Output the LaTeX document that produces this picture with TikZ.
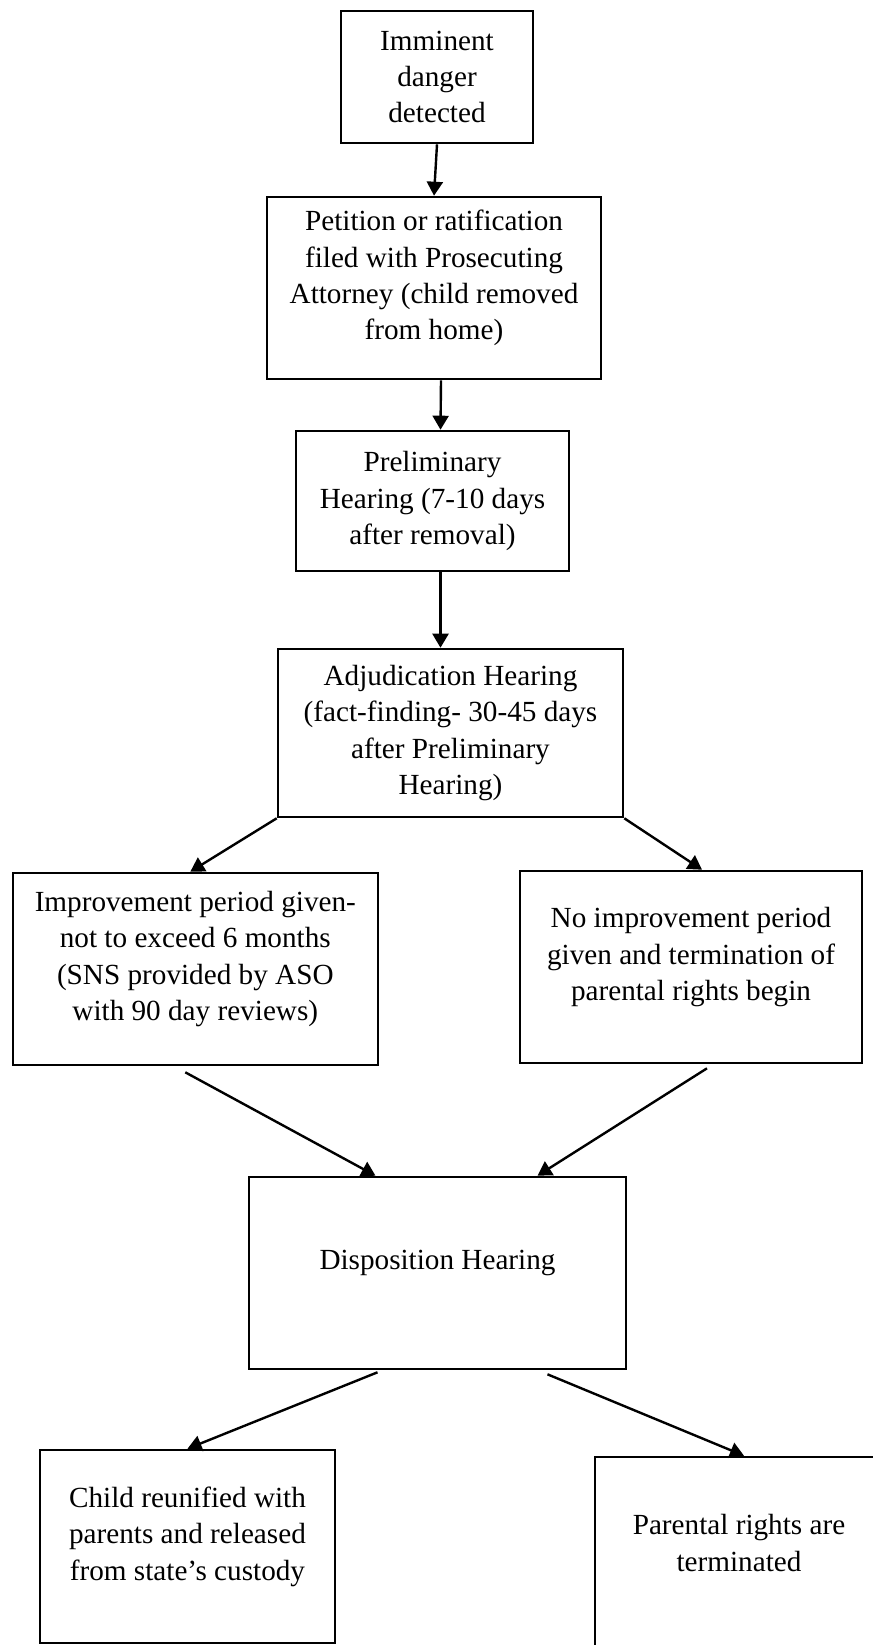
\documentclass[tikz,border=0pt]{standalone}
\usepackage{fontspec}
\setmainfont{Liberation Serif}
\usepackage{tikz}
\usetikzlibrary{arrows.meta, positioning, calc}
\tikzstyle{stage}  = [rectangle, draw, line width=2.6pt, align=center,
                      inner sep=0pt, font=\fontsize{29.2}{36.4}\selectfont]
\tikzstyle{lifted} = [text depth=26pt]
\tikzstyle{arrow}  = [-{Triangle[length=14pt, width=16pt]}, line width=2.4pt]

\begin{document}
\begin{tikzpicture}[x=1pt, y=-1pt]
  \useasboundingbox (0,0) rectangle (872,1645);

  \node[stage, minimum width=192, minimum height=132] (danger) at (437,77)
    {Imminent\\danger\\detected};
  \node[stage, lifted, minimum width=334, minimum height=182] (petition) at (434,288)
    {Petition or ratification\\filed with Prosecuting\\Attorney (child removed\\from home)};
  \node[stage, minimum width=273, minimum height=140] (prelim) at (432.5,501)
    {Preliminary\\Hearing (7-10 days\\after removal)};
  \node[stage, minimum width=345, minimum height=168] (adjud) at (450.5,733)
    {Adjudication Hearing\\(fact-finding- 30-45 days\\after Preliminary\\Hearing)};

  \node[stage, lifted, minimum width=365, minimum height=192] (improve) at (195.3,969)
    {Improvement period given-\\not to exceed 6 months\\(SNS provided by ASO\\with 90 day reviews)};
  \node[stage, lifted, minimum width=342, minimum height=192] (noimp) at (691,967)
    {No improvement period\\given and termination of\\parental rights begin};

  \node[stage, lifted, minimum width=377, minimum height=192] (disp) at (437.5,1273)
    {Disposition Hearing};

  \node[stage, lifted, minimum width=295, minimum height=193] (reunify) at (187.5,1546.5)
    {Child reunified with\\parents and released\\from state’s custody};
  \node[stage, text depth=28pt, minimum width=288, minimum height=200] (term) at (739,1557)
    {Parental rights are\\terminated};

  \draw[arrow] (danger.south) -- (petition.north);
  \draw[arrow] ([xshift=7pt]petition.south) -- ([xshift=8pt]prelim.north);
  \draw[arrow] ([xshift=8pt]prelim.south) -- ([xshift=-10pt]adjud.north);

  \draw[arrow] (adjud.south west) -- ([xshift=-5pt]improve.north);
  \draw[arrow] (adjud.south east) -- ([xshift=11pt]noimp.north);

  \draw[arrow] ([xshift=-10pt, yshift=-6pt]improve.south) -- ([xshift=-62pt]disp.north);
  \draw[arrow] ([xshift=16pt, yshift=-4pt]noimp.south) -- ([xshift=100pt]disp.north);

  \draw[arrow] ([xshift=-60pt, yshift=-2pt]disp.south) -- (reunify.north);
  \draw[arrow] ([xshift=110pt, yshift=-4pt]disp.south) -- ([xshift=5pt]term.north);
\end{tikzpicture}
\end{document}
